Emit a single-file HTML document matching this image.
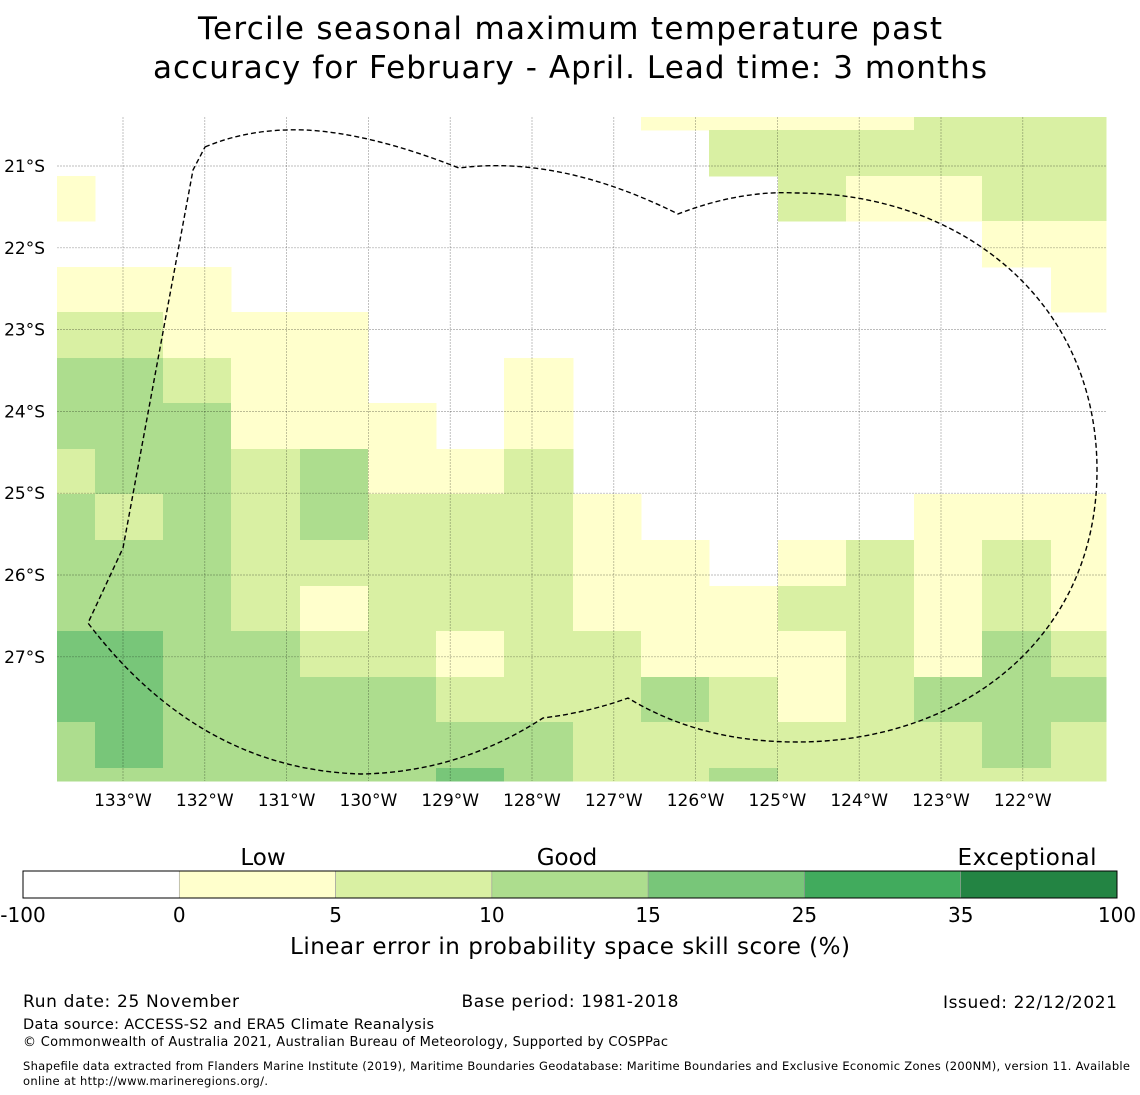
<!DOCTYPE html>
<html><head><meta charset="utf-8"><style>
body{margin:0;background:#fff}
svg{display:block;font-family:"DejaVu Sans","Liberation Sans",sans-serif}
</style></head><body>
<svg id="chart" width="1140" height="1095" viewBox="0 0 1140 1095">
<text x="570" y="39" font-size="31" text-anchor="middle" textLength="744">Tercile seasonal maximum temperature past</text>
<text x="570" y="78" font-size="31" text-anchor="middle" textLength="834">accuracy for February - April. Lead time: 3 months</text>
<g id="cells"></g>
<g id="grid"></g>
<path fill="none" stroke="#000" stroke-width="1.4" stroke-dasharray="5,3"
 d="M205,147 Q250,128 305,130 Q370,133 459,168 Q560,155 678,214 Q740,190 797,193 C960,193 1097,300 1097,470 C1097,640 960,742 797,742 Q700,742 628,698 Q590,712 543,718 Q460,772 362,774 Q200,770 88,623 L123,548 L193,170 Z"/>
<g id="ticks"></g>
<g id="cbar"></g>
<text x="263" y="865" font-size="23" text-anchor="middle">Low</text>
<text x="567" y="865" font-size="23" text-anchor="middle">Good</text>
<text x="1027" y="865" font-size="23" text-anchor="middle" textLength="139">Exceptional</text>
<text x="570" y="954" font-size="23" text-anchor="middle" textLength="560">Linear error in probability space skill score (%)</text>
<text x="23" y="1007" font-size="17" textLength="216">Run date: 25 November</text>
<text x="570" y="1007" font-size="17" text-anchor="middle" textLength="217">Base period: 1981-2018</text>
<text x="1117" y="1008" font-size="17" text-anchor="end" textLength="174">Issued: 22/12/2021</text>
<text x="23" y="1029" font-size="14.5" textLength="411">Data source: ACCESS-S2 and ERA5 Climate Reanalysis</text>
<text x="23" y="1046" font-size="13" textLength="645">© Commonwealth of Australia 2021, Australian Bureau of Meteorology, Supported by COSPPac</text>
<text x="23" y="1070" font-size="11.5" textLength="1107">Shapefile data extracted from Flanders Marine Institute (2019), Maritime Boundaries Geodatabase: Maritime Boundaries and Exclusive Economic Zones (200NM), version 11. Available</text>
<text x="23" y="1085" font-size="11.5" textLength="245">online at http://www.marineregions.org/.</text>
</svg>
<script>
const colors=["#ffffff","#ffffcc","#d9f0a3","#addd8e","#78c679","#41ab5d","#238443"];
const cbBounds=["-100","0","5","10","15","25","35","100"];
const lonLabels=["133°W","132°W","131°W","130°W","129°W","128°W","127°W","126°W","125°W","124°W","123°W","122°W"];
const lonValues=[-133,-132,-131,-130,-129,-128,-127,-126,-125,-124,-123,-122];
const latLabels=["21°S","22°S","23°S","24°S","25°S","26°S","27°S"];
const latValues=[-21,-22,-23,-24,-25,-26,-27];
const colEdges=[57,95,163,231,300,368,436,504,573,641,709,778,846,914,982,1051,1106];
const rowEdges=[117,130,176,221,267,312,358,403,449,494,540,586,631,677,722,768,781];
// skill class per cell (0=white,1=0-5,2=5-10,3=10-15,4=15-25)
const row0=[0,0,0,0,0,0,0,0,0,1,1,1,1,2,2,2];
const row1=[0,0,0,0,0,0,0,0,0,0,2,2,2,2,2,2];
const row2=[1,0,0,0,0,0,0,0,0,0,0,2,1,1,2,2];
const row3=[0,0,0,0,0,0,0,0,0,0,0,0,0,0,1,1];
const row4=[1,1,1,0,0,0,0,0,0,0,0,0,0,0,0,1];
const row5=[2,2,1,1,1,0,0,0,0,0,0,0,0,0,0,0];
const row6=[3,3,2,1,1,0,0,1,0,0,0,0,0,0,0,0];
const row7=[3,3,3,1,1,1,0,1,0,0,0,0,0,0,0,0];
const row8=[2,3,3,2,3,1,1,2,0,0,0,0,0,0,0,0];
const row9=[3,2,3,2,3,2,2,2,1,0,0,0,0,1,1,1];
const row10=[3,3,3,2,2,2,2,2,1,1,0,1,2,1,2,1];
const row11=[3,3,3,2,1,2,2,2,1,1,1,2,2,1,2,1];
const row12=[4,4,3,3,2,2,1,2,2,1,1,1,2,1,3,2];
const row13=[4,4,3,3,3,3,2,2,2,3,2,1,2,3,3,3];
const row14=[3,4,3,3,3,3,3,3,2,2,2,2,2,2,3,2];
const row15=[3,3,3,3,3,3,4,3,2,2,3,2,2,2,2,2];
const grid=[row0,row1,row2,row3,row4,row5,row6,row7,row8,row9,row10,row11,row12,row13,row14,row15];
const NS="http://www.w3.org/2000/svg";
function mk(t,a,p){const e=document.createElementNS(NS,t);for(const k in a)e.setAttribute(k,a[k]);p.appendChild(e);return e;}
const xLon=v=>123+(v+133)*81.8;
const yLat=v=>166+(-21-v)*81.8;
const cells=document.getElementById('cells');
grid.forEach((row,r)=>row.forEach((c,i)=>{
  if(!c)return;
  const e=mk('rect',{x:colEdges[i],y:rowEdges[r],width:colEdges[i+1]-colEdges[i]+0.5,height:rowEdges[r+1]-rowEdges[r]+0.5,fill:colors[c]},cells);
  
  
}));
const g=document.getElementById('grid'),tk=document.getElementById('ticks');
lonValues.forEach((v,i)=>{
  const x=xLon(v);
  const l=mk('line',{x1:x,x2:x,y1:117,y2:781,stroke:"#000","stroke-opacity":0.35,"stroke-width":0.7,"stroke-dasharray":"2,1"},g);
  
  
  const t=mk('text',{x:x,y:806,"font-size":17,"text-anchor":"middle"},tk);t.textContent=lonLabels[i];
  
  
});
latValues.forEach((v,i)=>{
  const y=yLat(v);
  const l=mk('line',{x1:57,x2:1106,y1:y,y2:y,stroke:"#000","stroke-opacity":0.35,"stroke-width":0.7,"stroke-dasharray":"2,1"},g);
  
  
  const t=mk('text',{x:45,y:y+6,"font-size":17,"text-anchor":"end"},tk);t.textContent=latLabels[i];
  
  
});
const cb=document.getElementById('cbar');
const x0=23,x1=1117,n=cbBounds.length-1,w=(x1-x0)/n;
for(let i=0;i<n;i++){
  const r=mk('rect',{x:x0+i*w,y:871,width:w,height:27,fill:colors[i],stroke:"#999","stroke-width":0.6},cb);
  
  
}
mk('rect',{x:x0,y:871,width:x1-x0,height:27,fill:"none",stroke:"#000","stroke-width":1},cb);
cbBounds.forEach((b,i)=>{
  const t=mk('text',{x:x0+i*w,y:922,"font-size":20,"text-anchor":"middle"},cb);t.textContent=b;
  
  
});
</script>
</body></html>
